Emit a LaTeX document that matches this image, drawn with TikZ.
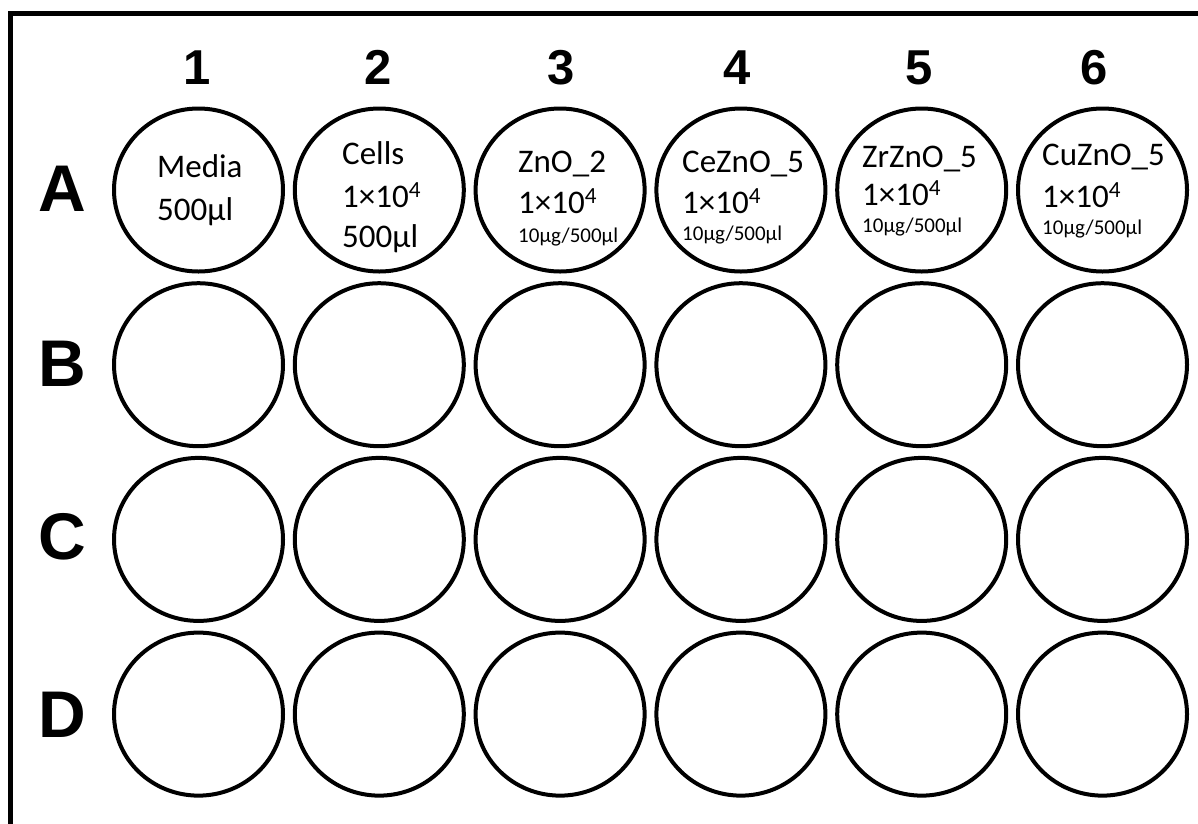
\documentclass[tikz,border=0pt]{standalone}
\usepackage{fontspec}
\setmainfont{Carlito}
\newfontfamily\labfont{Liberation Sans}
\usetikzlibrary{shapes.geometric}
\begin{document}
\begin{tikzpicture}[x=1pt,y=-1pt,
  well/.style={draw, ellipse, line width=4pt, minimum width=169pt, minimum height=163pt, inner sep=0pt},
  txt/.style={anchor=base west, inner sep=0pt, font=\fontsize{33}{40}\selectfont},
  smalltxt/.style={anchor=base west, inner sep=0pt, font=\fontsize{21}{25}\selectfont},
  rowlab/.style={anchor=base, inner sep=0pt, font=\labfont\bfseries\fontsize{66}{70}\selectfont},
  collab/.style={anchor=base, inner sep=0pt, font=\labfont\bfseries\fontsize{49}{55}\selectfont},
  frameline/.style={line width=5pt}]
\useasboundingbox (0,0) rectangle (1198,823);
% frame (left and top edges)
\coordinate (fBL) at (10.5,830);
\coordinate (fTL) at (10.5,13);
\coordinate (fTR) at (1205,13);
\draw[frameline] (fBL) -- (fTL) -- (fTR);
% wells
\foreach \r [count=\i] in {A,B,C,D}{
  \foreach \c in {1,...,6}{
    \node[well] (\r\c) at ({198.5+180.8*(\c-1)}, {190+174.7*(\i-1)}) {};
  }
}
% column labels
\node[collab] (c1) at (197,84) {1};
\node[collab] (c2) at (378,84) {2};
\node[collab] (c3) at (561,84) {3};
\node[collab] (c4) at (737,84) {4};
\node[collab] (c5) at (919,84) {5};
\node[collab] (c6) at (1094,84) {6};
% row labels
\node[rowlab] (rA) at (62,211) {A};
\node[rowlab] (rB) at (62,386) {B};
\node[rowlab] (rC) at (62,559) {C};
\node[rowlab] (rD) at (62,737) {D};
% well texts
\node[txt] (t1a) at (157,177) {Media};
\node[txt] (t1b) at (157,220) {500µl};
\node[txt] (t2a) at (342,164) {Cells};
\node[txt] (t2b) at (342,207) {1×10\textsuperscript{4}};
\node[txt] (t2c) at (342,247) {500µl};
\node[txt] (t3a) at (518,172) {ZnO\_2};
\node[txt] (t3b) at (518,213) {1×10\textsuperscript{4}};
\node[smalltxt] (t3c) at (518,242) {10µg/500µl};
\node[txt] (t4a) at (682,172) {CeZnO\_5};
\node[txt] (t4b) at (682,213) {1×10\textsuperscript{4}};
\node[smalltxt] (t4c) at (682,240) {10µg/500µl};
\node[txt] (t5a) at (862,167) {ZrZnO\_5};
\node[txt] (t5b) at (862,205) {1×10\textsuperscript{4}};
\node[smalltxt] (t5c) at (862,232) {10µg/500µl};
\node[txt] (t6a) at (1042,165) {CuZnO\_5};
\node[txt] (t6b) at (1042,207) {1×10\textsuperscript{4}};
\node[smalltxt] (t6c) at (1042,234) {10µg/500µl};
\end{tikzpicture}
\end{document}
